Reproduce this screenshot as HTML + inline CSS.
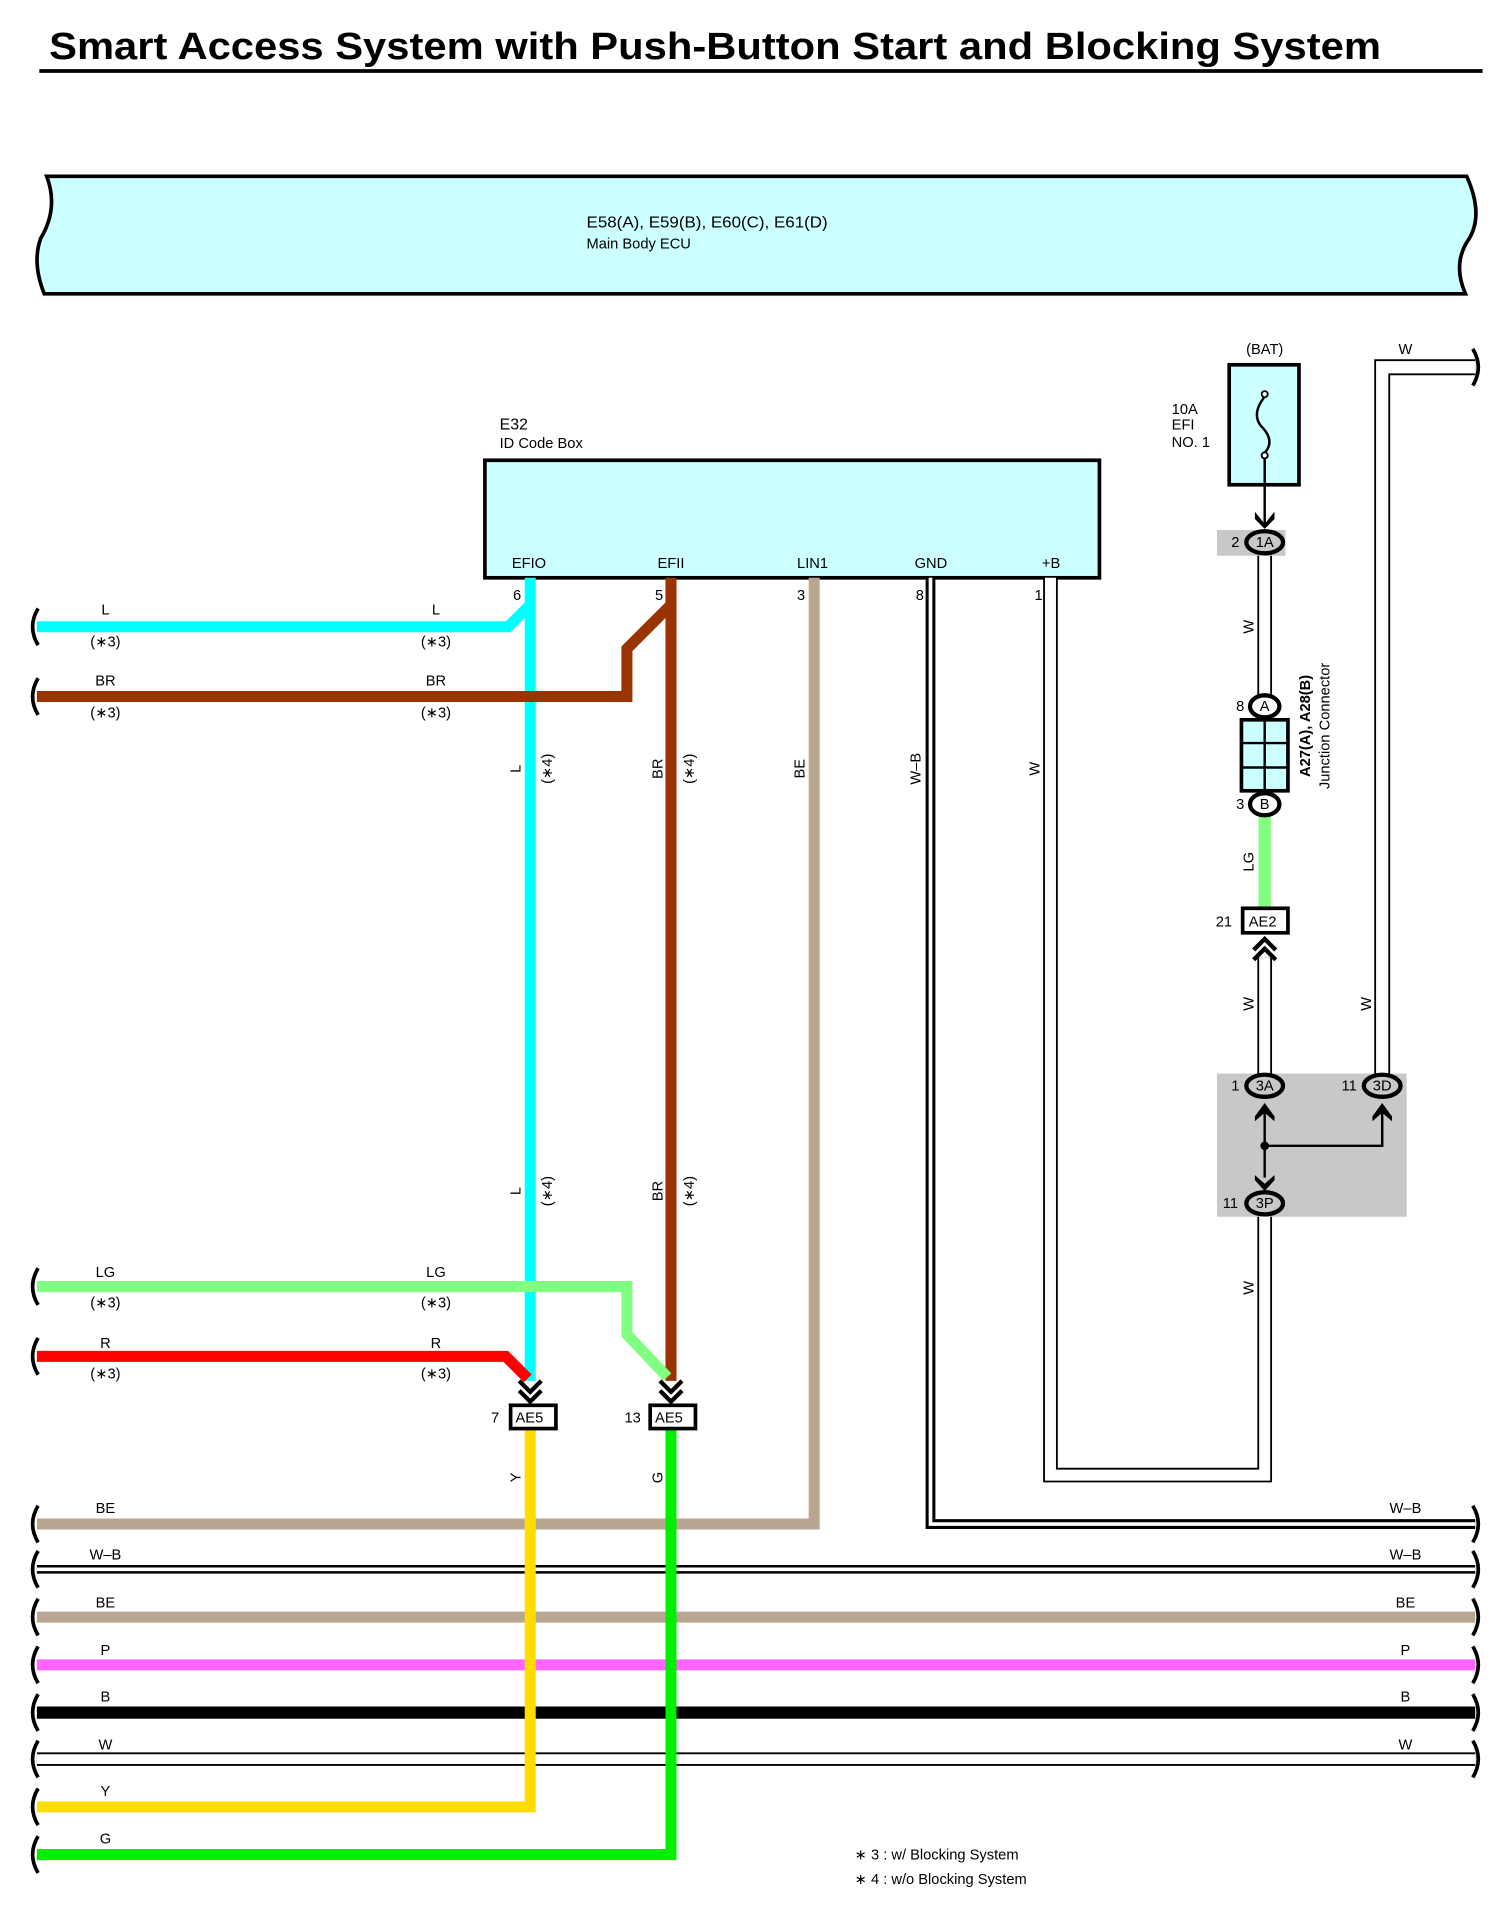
<!DOCTYPE html>
<html><head><meta charset="utf-8"><style>html,body{margin:0;padding:0;background:#fff}svg{display:block}text{font-family:"Liberation Sans",sans-serif;fill:#000}</style></head><body>
<svg width="1506" height="1917" viewBox="0 0 1230 1566" xmlns="http://www.w3.org/2000/svg">
<rect width="1230" height="1566" fill="#fff"/>
<text x="40" y="48" font-size="31" font-weight="bold" textLength="1088" lengthAdjust="spacingAndGlyphs">Smart Access System with Push-Button Start and Blocking System</text>
<line x1="32" y1="58" x2="1211" y2="58" stroke="#000" stroke-width="3"/>
<path d="M38,144 L1198,144 Q1212,175 1200,195 Q1186,215 1197,240 L36,240 Q26,215 33,195 Q48,170 38,144 Z" fill="#ccffff" stroke="#000" stroke-width="3"/>
<text x="479" y="186" font-size="13" textLength="197" lengthAdjust="spacingAndGlyphs">E58(A), E59(B), E60(C), E61(D)</text>
<text x="479" y="203" font-size="12">Main Body ECU</text>
<text x="408" y="351" font-size="13">E32</text>
<text x="408" y="366" font-size="12">ID Code Box</text>
<rect x="396" y="376" width="502" height="96" fill="#ccffff" stroke="#000" stroke-width="3"/>
<g font-size="12"><text x="418" y="464">EFIO</text><text x="537" y="464">EFII</text><text x="651" y="464">LIN1</text><text x="747" y="464">GND</text><text x="851" y="464">+B</text>
<text x="419" y="490">6</text><text x="535" y="490">5</text><text x="651" y="490">3</text><text x="748" y="490">8</text><text x="845" y="490">1</text></g>
<g fill="none">
<line x1="30" y1="1282" x2="1205" y2="1282" stroke="#000" stroke-width="7"/><line x1="30" y1="1282" x2="1205" y2="1282" stroke="#fff" stroke-width="3"/>
<line x1="30" y1="1321" x2="1205" y2="1321" stroke="#b8a690" stroke-width="9"/>
<line x1="30" y1="1360" x2="1205" y2="1360" stroke="#ff66ff" stroke-width="9"/>
<line x1="30" y1="1399" x2="1205" y2="1399" stroke="#000" stroke-width="10"/>
<line x1="30" y1="1437" x2="1205" y2="1437" stroke="#000" stroke-width="11"/><line x1="30" y1="1437" x2="1205" y2="1437" stroke="#fff" stroke-width="8"/>
<path d="M665,472 V1245 H30" stroke="#b8a690" stroke-width="9"/>
<path d="M760,472 V1245 H1205" stroke="#000" stroke-width="8"/><path d="M760,472 V1245 H1205" stroke="#fff" stroke-width="3"/>
<path d="M858,472 V1205 H1033 V990" stroke="#000" stroke-width="12"/><path d="M858,472 V1205 H1033 V990" stroke="#fff" stroke-width="9"/>
<path d="M433,1166 V1476 H30" stroke="#ffdd00" stroke-width="9"/>
<path d="M548,1166 V1515 H30" stroke="#00ee00" stroke-width="9"/>
<path d="M30,512 H415 L433,494" stroke="#00ffff" stroke-width="9"/>
<path d="M433,472 V1128" stroke="#00ffff" stroke-width="9"/>
<path d="M30,569 H512 V530 L548,494" stroke="#993300" stroke-width="9"/>
<path d="M548,472 V1128" stroke="#993300" stroke-width="9"/>
<path d="M30,1051 H512 V1090 L545,1125" stroke="#80ff80" stroke-width="9"/>
<path d="M30,1108 H413 L431,1126" stroke="#ff0000" stroke-width="9"/>
<path d="M1033,453 V570" stroke="#000" stroke-width="12"/><path d="M1033,453 V570" stroke="#fff" stroke-width="9"/>
<path d="M1033,667 V742" stroke="#80ff80" stroke-width="10"/>
<path d="M1033,782 V878" stroke="#000" stroke-width="12"/><path d="M1033,782 V878" stroke="#fff" stroke-width="9"/>
<path d="M1129,878 V300 H1205" stroke="#000" stroke-width="13"/><path d="M1129,878 V300 H1205" stroke="#fff" stroke-width="10"/>
</g>
<g fill="none" stroke="#000" stroke-width="3">
<path d="M31,497 Q22,512 31,527"/><path d="M31,554 Q22,569 31,584"/><path d="M31,1036 Q22,1051 31,1066"/><path d="M31,1093 Q22,1108 31,1123"/>
<path d="M31,1230 Q22,1245 31,1260"/><path d="M31,1267 Q22,1282 31,1297"/><path d="M31,1306 Q22,1321 31,1336"/><path d="M31,1345 Q22,1360 31,1375"/><path d="M31,1384 Q22,1399 31,1414"/><path d="M31,1422 Q22,1437 31,1452"/><path d="M31,1461 Q22,1476 31,1491"/><path d="M31,1500 Q22,1515 31,1530"/>
<path d="M1203,1230 Q1212,1245 1203,1260"/><path d="M1203,1267 Q1212,1282 1203,1297"/><path d="M1203,1306 Q1212,1321 1203,1336"/><path d="M1203,1345 Q1212,1360 1203,1375"/><path d="M1203,1384 Q1212,1399 1203,1414"/><path d="M1203,1422 Q1212,1437 1203,1452"/><path d="M1203,285 Q1212,300 1203,315"/>
</g>
<g font-size="12" text-anchor="middle">
<text x="86" y="502">L</text><text x="86" y="528">(∗3)</text><text x="356" y="502">L</text><text x="356" y="528">(∗3)</text>
<text x="86" y="560">BR</text><text x="86" y="586">(∗3)</text><text x="356" y="560">BR</text><text x="356" y="586">(∗3)</text>
<text x="86" y="1043">LG</text><text x="86" y="1068">(∗3)</text><text x="356" y="1043">LG</text><text x="356" y="1068">(∗3)</text>
<text x="86" y="1101">R</text><text x="86" y="1126">(∗3)</text><text x="356" y="1101">R</text><text x="356" y="1126">(∗3)</text>
<text x="86" y="1236">BE</text><text x="86" y="1274">W–B</text><text x="86" y="1313">BE</text><text x="86" y="1352">P</text><text x="86" y="1390">B</text><text x="86" y="1429">W</text><text x="86" y="1467">Y</text><text x="86" y="1506">G</text>
<text x="1148" y="1236">W–B</text><text x="1148" y="1274">W–B</text><text x="1148" y="1313">BE</text><text x="1148" y="1352">P</text><text x="1148" y="1390">B</text><text x="1148" y="1429">W</text><text x="1148" y="289">W</text>
<text x="1033" y="289">(BAT)</text>
</g>
<g font-size="12" text-anchor="middle">
<text transform="translate(425,628) rotate(-90)">L</text><text transform="translate(451,628) rotate(-90)">(∗4)</text>
<text transform="translate(541,628) rotate(-90)">BR</text><text transform="translate(567,628) rotate(-90)">(∗4)</text>
<text transform="translate(657,628) rotate(-90)">BE</text><text transform="translate(752,628) rotate(-90)">W–B</text><text transform="translate(849,628) rotate(-90)">W</text>
<text transform="translate(425,973) rotate(-90)">L</text><text transform="translate(451,973) rotate(-90)">(∗4)</text>
<text transform="translate(541,973) rotate(-90)">BR</text><text transform="translate(567,973) rotate(-90)">(∗4)</text>
<text transform="translate(425,1207) rotate(-90)">Y</text><text transform="translate(541,1207) rotate(-90)">G</text>
<text transform="translate(1024,512) rotate(-90)">W</text><text transform="translate(1024,704) rotate(-90)">LG</text><text transform="translate(1024,820) rotate(-90)">W</text><text transform="translate(1120,820) rotate(-90)">W</text><text transform="translate(1024,1052) rotate(-90)">W</text>
<text transform="translate(1070,593) rotate(-90)" font-weight="bold">A27(A), A28(B)</text><text transform="translate(1086,593) rotate(-90)">Junction Connector</text>
</g>
<g fill="none" stroke="#000" stroke-width="3.5">
<path d="M424,1128 L433,1137 L442,1128 M424,1136 L433,1145 L442,1136"/>
<path d="M539,1128 L548,1137 L557,1128 M539,1136 L548,1145 L557,1136"/>
<path d="M1024,776 L1033,767 L1042,776 M1024,784 L1033,775 L1042,784"/>
</g>
<rect x="417" y="1148" width="37" height="19" fill="#fff" stroke="#000" stroke-width="3"/>
<rect x="531" y="1148" width="37" height="19" fill="#fff" stroke="#000" stroke-width="3"/>
<g font-size="12"><text x="421" y="1162">AE5</text><text x="535" y="1162">AE5</text><text x="401" y="1162">7</text><text x="510" y="1162">13</text></g>
<rect x="1004" y="298" width="57" height="98" fill="#ccffff" stroke="#000" stroke-width="3"/>
<path d="M1033,324 Q1022,338 1030,348 Q1042,360 1033,370" fill="none" stroke="#000" stroke-width="2"/>
<circle cx="1033" cy="322" r="2.5" fill="#fff" stroke="#000" stroke-width="1.5"/><circle cx="1033" cy="372" r="2.5" fill="#fff" stroke="#000" stroke-width="1.5"/>
<line x1="1033" y1="374" x2="1033" y2="428" stroke="#000" stroke-width="2"/>
<path d="M1025,418 L1033,428 L1041,418 L1041,424 L1033,432 L1025,424Z" fill="#000"/>
<g font-size="12"><text x="957" y="338">10A</text><text x="957" y="351">EFI</text><text x="957" y="365">NO. 1</text></g>
<rect x="994" y="433" width="56" height="21" fill="#c8c8c8"/>
<rect x="994" y="877" width="155" height="117" fill="#c8c8c8"/>
<rect x="1014" y="588" width="38" height="58" fill="#ccffff" stroke="#000" stroke-width="3"/>
<path d="M1033,588 V646 M1014,607 H1052 M1014,627 H1052" stroke="#000" stroke-width="2"/>
<rect x="1015" y="742" width="37" height="20" fill="#fff" stroke="#000" stroke-width="3"/>
<text x="1020" y="757" font-size="12">AE2</text><text x="993" y="757" font-size="12">21</text>
<g stroke="#000" stroke-width="3.5">
<ellipse cx="1033" cy="443" rx="15" ry="9" fill="#c8c8c8"/>
<ellipse cx="1033" cy="577" rx="12" ry="9" fill="#fff"/>
<ellipse cx="1033" cy="657" rx="12" ry="9" fill="#fff"/>
<ellipse cx="1033" cy="887" rx="15" ry="9" fill="#c8c8c8"/>
<ellipse cx="1129" cy="887" rx="15" ry="9" fill="#c8c8c8"/>
<ellipse cx="1033" cy="983" rx="15" ry="9" fill="#c8c8c8"/>
</g>
<g font-size="12" text-anchor="middle">
<text x="1033" y="447">1A</text><text x="1033" y="581">A</text><text x="1033" y="661">B</text><text x="1033" y="891">3A</text><text x="1129" y="891">3D</text><text x="1033" y="987">3P</text>
<text x="1009" y="447">2</text><text x="1013" y="581">8</text><text x="1013" y="661">3</text><text x="1009" y="891">1</text><text x="1102" y="891">11</text><text x="1005" y="987">11</text>
</g>
<path d="M1033,905 V962 M1033,936 H1129 V905" fill="none" stroke="#000" stroke-width="2"/>
<circle cx="1033" cy="936" r="3.5" fill="#000"/>
<path d="M1025,912 L1033,901 L1041,912 L1041,916 L1033,909 L1025,916Z" fill="#000"/>
<path d="M1121,912 L1129,901 L1137,912 L1137,916 L1129,909 L1121,916Z" fill="#000"/>
<path d="M1025,960 L1033,967 L1041,960 L1041,964 L1033,973 L1025,964Z" fill="#000"/>
<g font-size="12"><text x="698" y="1519">∗ 3 : w/ Blocking System</text><text x="698" y="1539">∗ 4 : w/o Blocking System</text></g>
</svg>
</body></html>
